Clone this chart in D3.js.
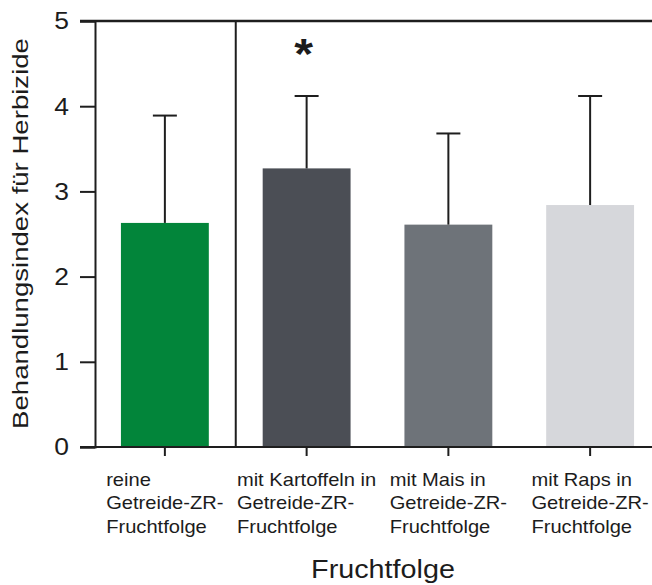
<!DOCTYPE html>
<html>
<head>
<meta charset="utf-8">
<script src="https://cdn.jsdelivr.net/npm/d3@7"></script>
<style>
  html, body { margin: 0; padding: 0; background: #fff; }
  svg { display: block; }
  text { font-family: "Liberation Sans", Arial, sans-serif; fill: #1c1c1c; }
</style>
</head>
<body>
<svg id="chart" width="652" height="585"></svg>
<script>
// ---- data ----
const categories = ["reine", "kartoffeln", "mais", "raps"];
const categoryLabels = [
  ["reine", "Getreide-ZR-", "Fruchtfolge"],
  ["mit Kartoffeln in", "Getreide-ZR-", "Fruchtfolge"],
  ["mit Mais in", "Getreide-ZR-", "Fruchtfolge"],
  ["mit Raps in", "Getreide-ZR-", "Fruchtfolge"]
];
const means = [2.63, 3.27, 2.61, 2.84];
const errors = [1.26, 0.85, 1.07, 1.28];
const significance = ["", "*", "", ""];
const barColors = ["#02853a", "#4b4e55", "#6e7379", "#d6d7db"];
const yTicks = [0, 1, 2, 3, 4, 5];
const yTitle = "Behandlungsindex für Herbizide";
const xTitle = "Fruchtfolge";

// ---- layout ----
const svg = d3.select("#chart");
const sx = 1.15; // horizontal stretch of the original artwork
const ink = "#1e1e1e";

const x = d3.scaleBand().domain(categories).range([94, 661])
  .paddingInner(0.38).paddingOuter(0.19);
const y = d3.scaleLinear().domain([0, 5]).range([447, 21]);

// bars
svg.append("g").selectAll("rect").data(categories).join("rect")
  .attr("x", d => x(d))
  .attr("y", (d, i) => y(means[i]))
  .attr("width", x.bandwidth())
  .attr("height", (d, i) => y(0) - y(means[i]))
  .attr("fill", (d, i) => barColors[i]);

// error bars
const eg = svg.append("g").attr("stroke", ink).attr("stroke-width", 2);
categories.forEach((c, i) => {
  const cx = x(c) + x.bandwidth() / 2;
  eg.append("line").attr("x1", cx).attr("x2", cx)
    .attr("y1", y(means[i])).attr("y2", y(means[i] + errors[i]));
  eg.append("line").attr("x1", cx - 12).attr("x2", cx + 12)
    .attr("y1", y(means[i] + errors[i])).attr("y2", y(means[i] + errors[i]));
});

// significance stars
categories.forEach((c, i) => {
  if (!significance[i]) return;
  svg.append("text")
    .attr("transform", `translate(${x(c) + x.bandwidth() / 2 - 3},${y(5) + 47}) scale(${sx},1)`)
    .attr("text-anchor", "middle")
    .style("font-size", "42px").style("font-weight", "bold")
    .text(significance[i]);
});

// y axis
const yAxis = svg.append("g").attr("transform", "translate(95,0)")
  .call(d3.axisLeft(y).tickValues(yTicks).tickSize(15).tickPadding(0).tickFormat(d3.format("d")));
yAxis.select(".domain").attr("stroke", ink).attr("stroke-width", 2);
yAxis.selectAll(".tick line").attr("stroke", ink).attr("stroke-width", 2);
yAxis.selectAll(".tick text")
  .attr("x", null).attr("dy", null)
  .attr("transform", `translate(-26,0) scale(${sx},1)`)
  .attr("dominant-baseline", "central")
  .style("font-size", "23px").style("font-family", "Liberation Sans, Arial, sans-serif")
  .attr("fill", "#1c1c1c");

// frame lines: top and bottom extend across the plot
svg.append("line").attr("x1", 80).attr("x2", 652).attr("y1", y(5)).attr("y2", y(5))
  .attr("stroke", ink).attr("stroke-width", 2.5);
svg.append("line").attr("x1", 80).attr("x2", 652).attr("y1", y(0)).attr("y2", y(0))
  .attr("stroke", ink).attr("stroke-width", 2);
// separator between first group and the others
const sepX = (x(categories[0]) + x.bandwidth() + x(categories[1])) / 2;
svg.append("line").attr("x1", sepX).attr("x2", sepX).attr("y1", y(5)).attr("y2", y(0))
  .attr("stroke", ink).attr("stroke-width", 2);

// x ticks
const xAxis = svg.append("g").attr("transform", `translate(0,${y(0)})`)
  .call(d3.axisBottom(x).tickSize(9).tickFormat(""));
xAxis.select(".domain").remove();
xAxis.selectAll(".tick line").attr("stroke", ink).attr("stroke-width", 2);

// x tick labels: left-aligned blocks centred on each band
categories.forEach((c, i) => {
  const cx = x(c) + x.bandwidth() / 2;
  const g = svg.append("g");
  const texts = categoryLabels[i].map((line, k) =>
    g.append("text").style("font-size", "17.5px").text(line));
  const maxW = d3.max(texts, t => t.node().getComputedTextLength()) * sx;
  const left = cx - maxW / 2;
  texts.forEach((t, k) => {
    t.attr("transform", `translate(${left},${486 + k * 23.3}) scale(${sx},1)`);
  });
});

// axis titles
svg.append("text")
  .attr("transform", `translate(383,578) scale(${sx},1)`)
  .attr("text-anchor", "middle").style("font-size", "25px").text(xTitle);
const yt = svg.append("text")
  .attr("text-anchor", "middle").style("font-size", "22px").text(yTitle);
const ytLen = yt.node().getComputedTextLength();
const ytScale = 391 / ytLen;
yt.attr("transform", `translate(28,233.5) rotate(-90) scale(${ytScale},1)`);
</script>
</body>
</html>
